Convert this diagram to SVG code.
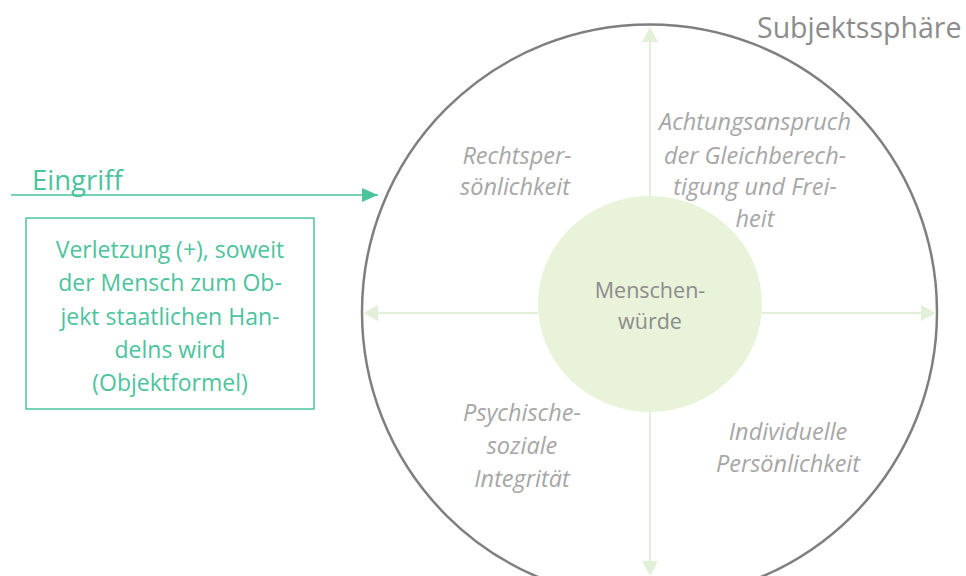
<svg xmlns="http://www.w3.org/2000/svg" width="966" height="576" viewBox="0 0 966 576">
<style>
.it{font-family:"Open Sans","Liberation Sans",sans-serif;font-style:italic;font-size:23.5px;fill:#a6a6a6;text-anchor:middle}
.tl{font-family:"Open Sans","Liberation Sans",sans-serif;font-size:23px;fill:#4cc39d;text-anchor:middle}
.ax{stroke:#e2f0d9;stroke-width:2;fill:none}
</style>
<defs>
<marker id="ta" markerWidth="16" markerHeight="14" refX="16" refY="7" orient="auto" markerUnits="userSpaceOnUse">
<path d="M0,0L16,7L0,14Z" fill="#4cc39d"/>
</marker>
</defs>
<g id="sphere">
<circle cx="649.5" cy="312" r="287.5" fill="none" stroke="#7f7f7f" stroke-width="2.5"/>
<text x="757" y="38" font-family="Open Sans, Liberation Sans, sans-serif" font-size="28.5" fill="#8c8c8c">Subjektssphäre</text>
</g>
<g id="connectors">
<line class="ax" x1="650" y1="196" x2="650" y2="42"/>
<path d="M650,27L642,42L658,42Z" fill="#e2f0d9"/>
<line class="ax" x1="650" y1="412" x2="650" y2="561"/>
<path d="M650,576L642,561L658,561Z" fill="#e2f0d9"/>
<line class="ax" x1="538" y1="313" x2="378" y2="313"/>
<path d="M363,313L378,305L378,321Z" fill="#e2f0d9"/>
<line class="ax" x1="762" y1="313" x2="921" y2="313"/>
<path d="M936,313L921,305L921,321Z" fill="#e2f0d9"/>
<line x1="11" y1="195" x2="378" y2="195" stroke="#4cc39d" stroke-width="1.5" marker-end="url(#ta)"/>
</g>
<g id="core">
<ellipse cx="650" cy="304" rx="112" ry="108" fill="#e8f3da"/>
<text x="650" y="298" font-family="Open Sans, Liberation Sans, sans-serif" font-size="21.5" fill="#8c8c8c" text-anchor="middle">Menschen-</text>
<text x="650" y="329" font-family="Open Sans, Liberation Sans, sans-serif" font-size="21.5" fill="#8c8c8c" text-anchor="middle">würde</text>
</g>
<g id="rechtspersoenlichkeit">
<text class="it" x="517" y="164">Rechtsper-</text>
<text class="it" x="515" y="195">sönlichkeit</text>
</g>
<g id="achtungsanspruch">
<text class="it" x="755" y="130">Achtungsanspruch</text>
<text class="it" x="755" y="164">der Gleichberech-</text>
<text class="it" x="755" y="195">tigung und Frei-</text>
<text class="it" x="755" y="227">heit</text>
</g>
<g id="psychisch">
<text class="it" x="522" y="421">Psychische-</text>
<text class="it" x="522" y="454">soziale</text>
<text class="it" x="522" y="487">Integrität</text>
</g>
<g id="individuell">
<text class="it" x="788" y="440">Individuelle</text>
<text class="it" x="788" y="472">Persönlichkeit</text>
</g>
<g id="eingriff">
<text x="32" y="190" font-family="Open Sans, Liberation Sans, sans-serif" font-size="27.5" fill="#4cc39d">Eingriff</text>
</g>
<g id="verletzung">
<rect x="26" y="218" width="288" height="191" fill="none" stroke="#4cc39d" stroke-width="1.5"/>
<text class="tl" x="170" y="258">Verletzung (+), soweit</text>
<text class="tl" x="170" y="291">der Mensch zum Ob-</text>
<text class="tl" x="170" y="325">jekt staatlichen Han-</text>
<text class="tl" x="170" y="358">delns wird</text>
<text class="tl" x="170" y="391">(Objektformel)</text>
</g>
</svg>
